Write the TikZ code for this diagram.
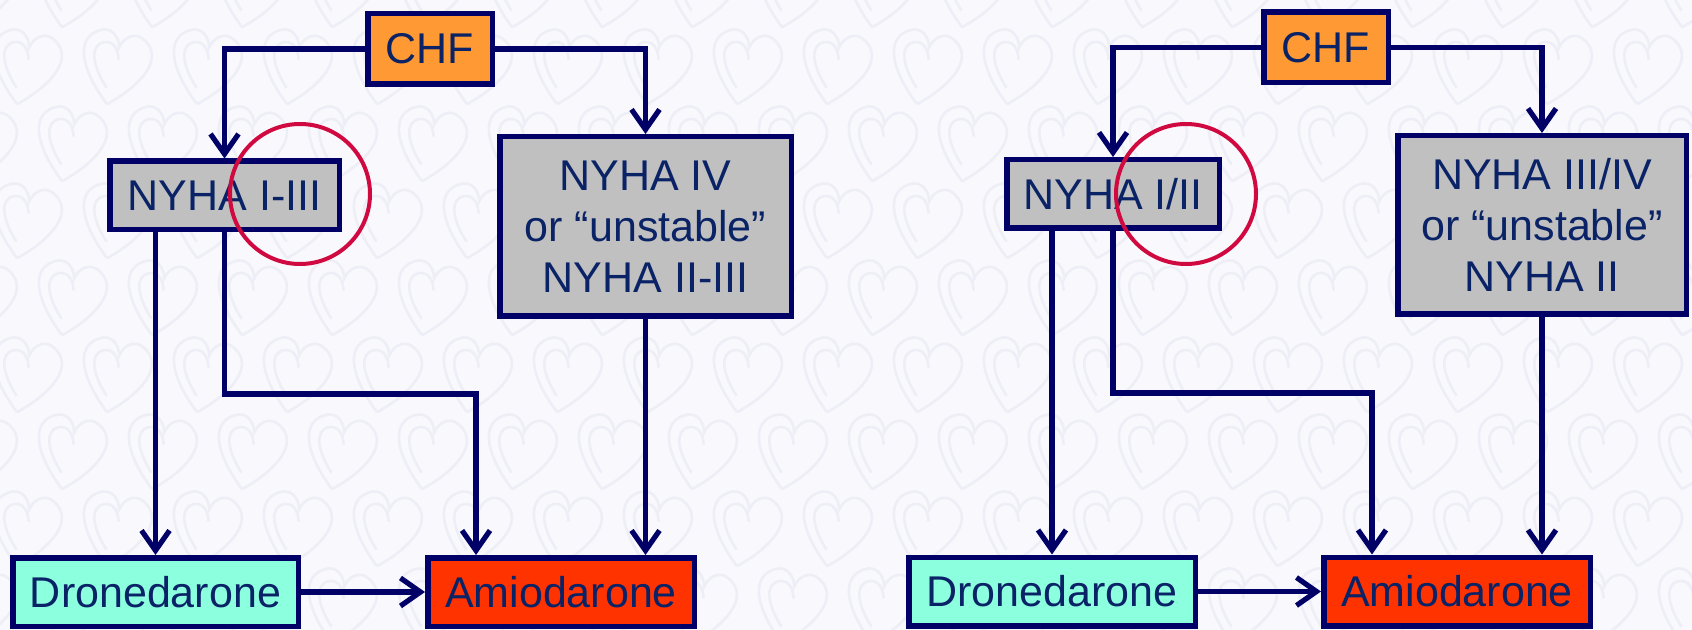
\documentclass[tikz,border=0pt]{standalone}
\usepackage{fontspec}
\setmainfont{Liberation Sans}
\usetikzlibrary{arrows.meta}
\definecolor{navy}{HTML}{000066}
\definecolor{txtblue}{HTML}{0A2266}
\definecolor{chforange}{HTML}{FF9933}
\definecolor{boxgray}{HTML}{C0C0C0}
\definecolor{mint}{HTML}{8CFFDF}
\definecolor{amired}{HTML}{FF3300}
\definecolor{ringred}{HTML}{D00A40}
\definecolor{paper}{HTML}{F8F8FD}
\definecolor{heartline}{HTML}{EEEEF6}
\tikzset{
  flowbox/.style={draw=navy, line width=2.75pt, inner sep=0pt, text=txtblue,
    font=\fontsize{21.5}{25.5}\selectfont, align=center},
  smallbox/.style={flowbox, minimum height=34.25pt},
  conn/.style={draw=navy, line width=2.6pt,
    -{Straight Barb[length=10pt,width=14pt]}},
  ring/.style={circle, draw=ringred, line width=2pt, minimum size=70pt, inner sep=0pt},
  heart/.style={draw=heartline, line width=1.3pt}
}
\begin{document}
\begin{tikzpicture}[x=0.5pt,y=-0.5pt]
  \useasboundingbox (0,0) rectangle (1692,630);
  \fill[paper] (0,0) rectangle (1692,630);
  % faint heart wallpaper
  \begin{scope}
    \clip (0,0) rectangle (1692,630);
    \foreach \r in {0,...,9} {
      \foreach \c in {0,...,19} {
        \pgfmathsetmacro{\hx}{\c*90 + mod(\r,2)*45 - 20}
        \pgfmathsetmacro{\hy}{\r*77 - 10}
        \begin{scope}[shift={(\hx,\hy)}, rotate=-12]
          \draw[heart] (0,38) .. controls (-30,12) and (-46,-18) .. (-24,-32)
            .. controls (-12,-40) and (-2,-30) .. (0,-20)
            .. controls (2,-30) and (12,-40) .. (24,-32)
            .. controls (46,-18) and (30,12) .. (0,38);
          \draw[heart] (-4,22) .. controls (-22,4) and (-30,-16) .. (-16,-22)
            .. controls (-6,-26) and (0,-16) .. (2,-8);
        \end{scope}
      }
    }
  \end{scope}

  % left chart
  \node[smallbox, fill=chforange, minimum width=62.25pt, minimum height=35.25pt] (chfA) at (430,49) {CHF};
  \node[smallbox, fill=boxgray, minimum width=114.75pt] (lowA) at (224.5,195.5) {NYHA I-III};
  \node[flowbox, fill=boxgray, minimum width=145.75pt, minimum height=89.75pt] (highA) at (645.5,226.5) {NYHA IV\\or “unstable”\\NYHA II-III};
  \node[smallbox, fill=mint, minimum width=142.75pt] (droA) at (155.5,592) {Dronedarone};
  \node[smallbox, fill=amired, minimum width=133.25pt] (amiA) at (561,592) {Amiodarone};
  \coordinate (bendA) at (476,394);

  \draw[conn] (chfA.west) -| (lowA.north);
  \draw[conn] (chfA.east) -| (highA.north);
  \draw[conn] (lowA.south -| droA.north) -- (droA.north);
  \draw[conn] (lowA.south) |- (bendA) -- (bendA |- amiA.north);
  \draw[conn] (highA.south) -- (highA.south |- amiA.north);
  \draw[conn] (droA.east) -- (amiA.west);
  \node[ring] (ringA) at (300,194) {};

  % right chart
  \node[smallbox, fill=chforange, minimum width=62.25pt, minimum height=35.25pt] (chfB) at (1326,47.5) {CHF};
  \node[smallbox, fill=boxgray, minimum width=106.25pt] (lowB) at (1113,194) {NYHA I/II};
  \node[flowbox, fill=boxgray, minimum width=144.25pt, minimum height=89.25pt] (highB) at (1542,225) {NYHA III/IV\\or “unstable”\\NYHA II};
  \node[smallbox, fill=mint, minimum width=143.25pt] (droB) at (1052,591.5) {Dronedarone};
  \node[smallbox, fill=amired, minimum width=133.25pt] (amiB) at (1457,591.5) {Amiodarone};
  \coordinate (bendB) at (1372,393);

  \draw[conn] (chfB.west) -| (lowB.north);
  \draw[conn] (chfB.east) -| (highB.north);
  \draw[conn] (lowB.south -| droB.north) -- (droB.north);
  \draw[conn] (lowB.south) |- (bendB) -- (bendB |- amiB.north);
  \draw[conn] (highB.south) -- (highB.south |- amiB.north);
  \draw[conn] (droB.east) -- (amiB.west);
  \node[ring] (ringB) at (1186,194) {};
\end{tikzpicture}
\end{document}
